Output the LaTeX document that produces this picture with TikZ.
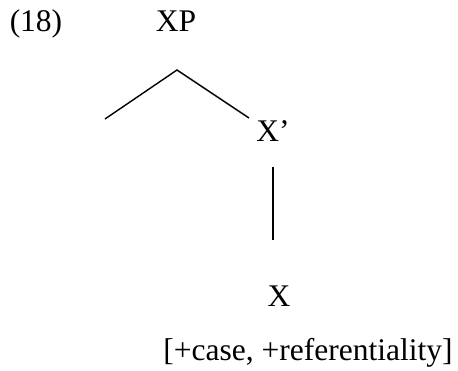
\documentclass[tikz,border=0pt]{standalone}
\usepackage{fontspec}
\setmainfont{Liberation Serif}
\usepackage{tikz}
\usetikzlibrary{positioning,calc}

\begin{document}
\begin{tikzpicture}[
    x=1pt, y=-1pt,
    font=\fontsize{31.5}{38}\selectfont,
    lab/.style = {inner sep=0pt, outer sep=0pt},
    br/.style  = {draw=black, line width=1.4pt},
]
\useasboundingbox (0,0) rectangle (458,371);

%--- labels
\node[lab, anchor=base]      (num)  at (36,32)   {(18)};
\node[lab, anchor=base]      (xp)   at (176,32)  {XP};
\node[lab, anchor=base]      (xbar) at (273,142) {X'};
\node[lab, anchor=base]      (x)    at (279,307) {X};
\node[lab, anchor=base]      (feat) at (308,361) {[+case, +referentiality]};

%--- branch points
\coordinate (top)   at (177,70);
\coordinate (left)  at (105,119);
\coordinate (right) at (249,118);

%--- edges
\draw[br] (left) -- (top) -- (right);
\draw[br, shorten <=25pt, shorten >=46pt] (xbar.south) -- (x.north -| xbar.south);

\end{tikzpicture}
\end{document}
